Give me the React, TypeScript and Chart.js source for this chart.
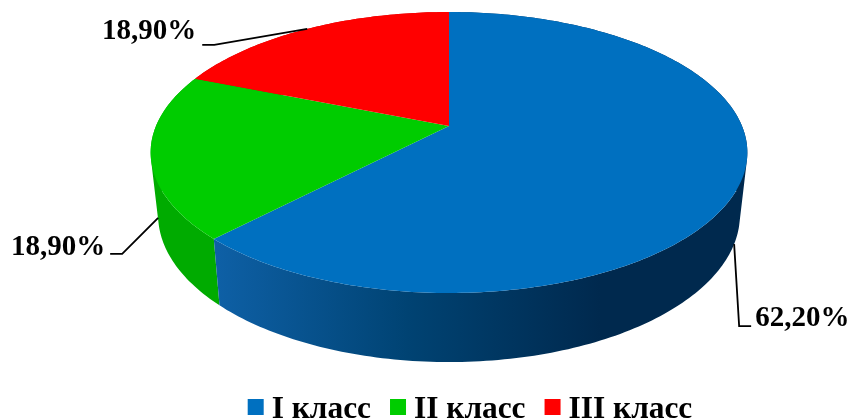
import React, { useEffect, useRef } from "react";
import { Chart, ArcElement, PieController } from "chart.js";

Chart.register(ArcElement, PieController);

const categories = ["I класс", "II класс", "III класс"];
const shares = [62.2, 18.9, 18.9];
const topColors = ["#0070C0", "#00CC00", "#FF0000"];

const LABEL_FONT = 'bold 29px "Liberation Serif", serif';
const LEGEND_FONT = 'bold 31.4px "Liberation Serif", serif';

// Rim projections: a circle seen in perspective, upper and lower edge of the disc.
const upperRim = { fx: 293 / 126, fy: 135.5 / 126, k: 0.1886, dy: 0 };
const lowerRim = { fx: 285.6 / 126, fy: 141.8 / 126, k: 0.19, dy: 61 };

type Rim = typeof upperRim;
type Pt = { x: number; y: number };

function project(arc: any, angle: number, rim: Rim): Pt {
  const t = angle + Math.PI / 2;
  const u = Math.sin(t);
  const v = Math.cos(t);
  const d = 1 + rim.k * v;
  return {
    x: arc.x + (rim.fx * arc.outerRadius * u) / d,
    y: arc.y + rim.dy - (rim.fy * arc.outerRadius * v) / d,
  };
}

function samples(a0: number, a1: number) {
  const n = Math.max(2, Math.ceil((a1 - a0) / (Math.PI / 180)));
  const out: number[] = [];
  for (let i = 0; i <= n; i++) out.push(a0 + ((a1 - a0) * i) / n);
  return out;
}

function signedArea(q: Pt[]) {
  return q.reduce((s, p, i) => {
    const n = q[(i + 1) % q.length];
    return s + p.x * n.y - n.x * p.y;
  }, 0);
}

function sideFill(ctx: CanvasRenderingContext2D, index: number) {
  if (index === 0) {
    const g = ctx.createLinearGradient(215, 0, 600, 0);
    g.addColorStop(0, "#0E60A6");
    g.addColorStop(0.5, "#004373");
    g.addColorStop(1, "#00294E");
    return g;
  }
  return index === 1 ? "#00AB00" : "#CC0000";
}

// Leader elbow and text offsets from each slice's anchor on the rim.
const leaders = [
  { rim: lowerRim, elbow: [5, 82], end: [17, 82], text: [21, 82], align: "left" },
  { rim: lowerRim, elbow: [-36, 36], end: [-48, 36], text: [-53, 37], align: "right" },
  { rim: upperRim, elbow: [-93, 16], end: [-105, 16], text: [-111, 10], align: "right" },
];

const pie3d = {
  id: "pie3d",
  beforeDatasetDraw(chart: any) {
    const ctx: CanvasRenderingContext2D = chart.ctx;
    const arcs = chart.getDatasetMeta(0).data;

    // Side walls, back slices first so the front wall stays on top.
    // Swept quads with one winding form a single seamless shape.
    [2, 1, 0].forEach((i) => {
      const arc = arcs[i];
      const angles = samples(arc.startAngle, arc.endAngle);
      ctx.beginPath();
      for (let j = 0; j < angles.length - 1; j++) {
        const quad = [
          project(arc, angles[j], upperRim),
          project(arc, angles[j + 1], upperRim),
          project(arc, angles[j + 1], lowerRim),
          project(arc, angles[j], lowerRim),
        ];
        if (signedArea(quad) < 0) quad.reverse();
        quad.forEach((p, n) => (n ? ctx.lineTo(p.x, p.y) : ctx.moveTo(p.x, p.y)));
        ctx.closePath();
      }
      ctx.fillStyle = sideFill(ctx, i);
      ctx.fill();
    });

    // Top face.
    arcs.forEach((arc: any, i: number) => {
      ctx.beginPath();
      ctx.moveTo(arc.x, arc.y);
      samples(arc.startAngle, arc.endAngle).forEach((a) => {
        const p = project(arc, a, upperRim);
        ctx.lineTo(p.x, p.y);
      });
      ctx.closePath();
      ctx.fillStyle = topColors[i];
      ctx.fill();
    });

    // Value labels with leader lines.
    ctx.font = LABEL_FONT;
    ctx.textBaseline = "alphabetic";
    arcs.forEach((arc: any, i: number) => {
      const l = leaders[i];
      const a = project(arc, (arc.startAngle + arc.endAngle) / 2, l.rim);
      ctx.beginPath();
      ctx.moveTo(a.x, a.y);
      ctx.lineTo(a.x + l.elbow[0], a.y + l.elbow[1]);
      ctx.lineTo(a.x + l.end[0], a.y + l.end[1]);
      ctx.strokeStyle = "#000000";
      ctx.lineWidth = 1.8;
      ctx.stroke();
      ctx.fillStyle = "#000000";
      ctx.textAlign = l.align as CanvasTextAlign;
      const text = shares[i].toFixed(2).replace(".", ",") + "%";
      ctx.fillText(text, a.x + l.text[0], a.y + l.text[1]);
    });

    // Legend row, centred under the pie.
    ctx.font = LEGEND_FONT;
    const labels: string[] = chart.data.labels;
    const box = 16;
    const gap = 8;
    const between = 19;
    const widths = labels.map((t) => ctx.measureText(t).width);
    const total =
      widths.reduce((s, w) => s + w + box + gap, 0) + between * (labels.length - 1);
    let x = 470 - total / 2;
    ctx.textAlign = "left";
    labels.forEach((t, i) => {
      ctx.fillStyle = topColors[i];
      ctx.fillRect(x, 399, box, box);
      ctx.fillStyle = "#000000";
      ctx.fillText(t, x + box + gap, 418);
      x += box + gap + widths[i] + between;
    });

    return false;
  },
};

export default function App() {
  const ref = useRef<HTMLCanvasElement>(null);

  useEffect(() => {
    document.body.style.margin = "0";
    const chart = new Chart(ref.current!, {
      type: "pie",
      data: {
        labels: categories,
        datasets: [{ data: shares, backgroundColor: topColors, borderWidth: 0 }],
      },
      options: {
        responsive: false,
        animation: false,
        layout: { padding: { left: 48, right: 0, top: 0, bottom: 167 } },
        plugins: { legend: { display: false }, tooltip: { enabled: false } },
      },
      plugins: [pie3d],
    });
    return () => chart.destroy();
  }, []);

  return <canvas ref={ref} width={850} height={419} style={{ display: "block" }} />;
}
